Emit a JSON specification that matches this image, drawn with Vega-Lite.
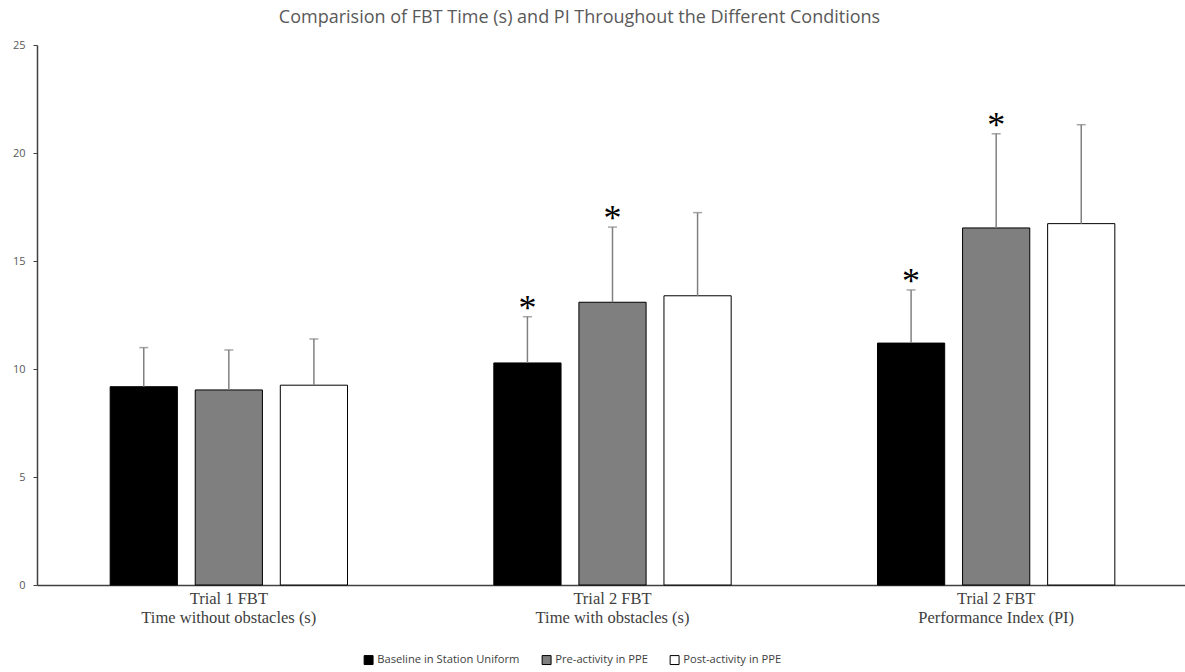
{
  "$schema": "https://vega.github.io/schema/vega-lite/v6.json",
  "autosize": "none",
  "width": 1151,
  "height": 540,
  "padding": {"left": 37, "top": 45, "right": 0, "bottom": 87},
  "background": "white",
  "title": {
    "text": "Comparision of FBT Time (s) and PI Throughout the Different Conditions",
    "font": "Open Sans",
    "fontSize": 18,
    "fontWeight": "normal",
    "color": "#595959",
    "anchor": "middle",
    "dx": -33,
    "offset": 12
  },
  "config": {"view": {"stroke": null}},
  "data": {
    "values": [
      {"measure": "Trial 1 FBT|Time without obstacles (s)", "condition": "Baseline in Station Uniform", "order": 1, "mean": 9.18, "upper": 10.99, "sig": ""},
      {"measure": "Trial 1 FBT|Time without obstacles (s)", "condition": "Pre-activity in PPE", "order": 2, "mean": 9.03, "upper": 10.88, "sig": ""},
      {"measure": "Trial 1 FBT|Time without obstacles (s)", "condition": "Post-activity in PPE", "order": 3, "mean": 9.25, "upper": 11.39, "sig": ""},
      {"measure": "Trial 2 FBT|Time with obstacles (s)", "condition": "Baseline in Station Uniform", "order": 1, "mean": 10.28, "upper": 12.42, "sig": "*"},
      {"measure": "Trial 2 FBT|Time with obstacles (s)", "condition": "Pre-activity in PPE", "order": 2, "mean": 13.09, "upper": 16.57, "sig": "*"},
      {"measure": "Trial 2 FBT|Time with obstacles (s)", "condition": "Post-activity in PPE", "order": 3, "mean": 13.39, "upper": 17.24, "sig": ""},
      {"measure": "Trial 2 FBT|Performance Index (PI)", "condition": "Baseline in Station Uniform", "order": 1, "mean": 11.2, "upper": 13.66, "sig": "*"},
      {"measure": "Trial 2 FBT|Performance Index (PI)", "condition": "Pre-activity in PPE", "order": 2, "mean": 16.53, "upper": 20.89, "sig": "*"},
      {"measure": "Trial 2 FBT|Performance Index (PI)", "condition": "Post-activity in PPE", "order": 3, "mean": 16.73, "upper": 21.31, "sig": ""}
    ]
  },
  "encoding": {
    "x": {
      "field": "measure",
      "type": "nominal",
      "sort": null,
      "scale": {"paddingInner": 0, "paddingOuter": 0},
      "axis": {
        "title": null,
        "labelAngle": 0,
        "labelExpr": "split(datum.value, '|')",
        "labelFont": "Liberation Serif",
        "labelFontSize": 16.5,
        "labelColor": "#404040",
        "labelLineHeight": 19,
        "labelPadding": 5,
        "ticks": false,
        "domainColor": "#404040",
        "domainWidth": 1.5
      }
    },
    "xOffset": {
      "field": "condition",
      "type": "nominal",
      "sort": ["Baseline in Station Uniform", "Pre-activity in PPE", "Post-activity in PPE"],
      "scale": {"paddingInner": 0.21, "paddingOuter": 0.86}
    }
  },
  "layer": [
    {
      "mark": {"type": "bar", "stroke": "#000000", "strokeWidth": 1},
      "encoding": {
        "y": {
          "field": "mean",
          "type": "quantitative",
          "scale": {"domain": [0, 25], "nice": false},
          "axis": {
            "title": null,
            "values": [0, 5, 10, 15, 20, 25],
            "grid": false,
            "tickSize": 4,
            "tickColor": "#404040",
            "domainColor": "#404040",
            "domainWidth": 1.5,
            "labelFont": "Open Sans",
            "labelFontSize": 11,
            "labelColor": "#595959",
            "labelPadding": 8
          }
        },
        "fill": {
          "field": "condition",
          "type": "nominal",
          "sort": ["Baseline in Station Uniform", "Pre-activity in PPE", "Post-activity in PPE"],
          "scale": {
            "domain": ["Baseline in Station Uniform", "Pre-activity in PPE", "Post-activity in PPE"],
            "range": ["#000000", "#7f7f7f", "#ffffff"]
          },
          "legend": {
            "title": null,
            "orient": "none",
            "direction": "horizontal",
            "legendX": 326,
            "legendY": 609,
            "symbolType": "square",
            "symbolSize": 80,
            "symbolStrokeColor": "#000000",
            "symbolStrokeWidth": 1,
            "labelFont": "Open Sans",
            "labelFontSize": 11.2,
            "labelColor": "#404040",
            "labelOffset": 3,
            "columnPadding": 20
          }
        }
      }
    },
    {
      "mark": {"type": "rule", "color": "#808080", "strokeWidth": 1.5},
      "encoding": {
        "y": {"field": "mean", "type": "quantitative", "scale": {"domain": [0, 25], "nice": false}},
        "y2": {"field": "upper"}
      }
    },
    {
      "mark": {"type": "tick", "color": "#808080", "thickness": 1.5, "size": 9, "orient": "horizontal"},
      "encoding": {
        "y": {"field": "upper", "type": "quantitative", "scale": {"domain": [0, 25], "nice": false}}
      }
    },
    {
      "mark": {"type": "text", "font": "Liberation Serif", "fontSize": 36, "color": "#000000", "baseline": "middle", "dy": -8},
      "encoding": {
        "y": {"field": "upper", "type": "quantitative", "scale": {"domain": [0, 25], "nice": false}},
        "text": {"field": "sig"}
      }
    }
  ]
}
